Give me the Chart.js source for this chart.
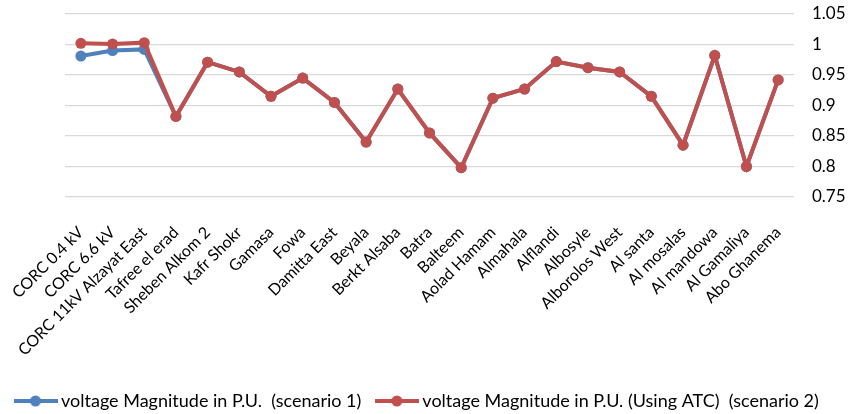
<!DOCTYPE html>
<html>
<head>
<meta charset="utf-8">
<script src="https://cdn.jsdelivr.net/npm/chart.js@4/dist/chart.umd.min.js"></script>
<style>
  html, body { margin: 0; padding: 0; background: #fff; }
  #wrap { width: 848px; height: 414px; }
</style>
</head>
<body>
<div id="wrap"><canvas id="chart" width="848" height="414"></canvas></div>
<script>
// Data
const stations = [
    'CORC 0.4 kV', 'CORC 6.6 kV', 'CORC 11kV Alzayat East', 'Tafree el erad',
    'Sheben Alkom 2', 'Kafr Shokr', 'Gamasa', 'Fowa', 'Damitta East', 'Beyala',
    'Berkt Alsaba', 'Batra', 'Balteem', 'Aolad Hamam', 'Almahala', 'Alflandi',
    'Albosyle', 'Alborolos West', 'Al santa', 'Al mosalas', 'Al mandowa',
    'Al Gamaliya', 'Abo Ghanema'
];
const scenario1 = [
    0.981, 0.990, 0.992, 0.882, 0.971, 0.955, 0.915, 0.945, 0.905, 0.840,
    0.927, 0.855, 0.798, 0.912, 0.927, 0.972, 0.962, 0.955, 0.915, 0.835,
    0.982, 0.800, 0.942
];
const scenario2 = [
    1.002, 1.001, 1.003, 0.882, 0.971, 0.955, 0.915, 0.945, 0.905, 0.840,
    0.927, 0.855, 0.798, 0.912, 0.927, 0.972, 0.962, 0.955, 0.915, 0.835,
    0.982, 0.800, 0.942
];
const yTicks = [0.75, 0.8, 0.85, 0.9, 0.95, 1, 1.05];

const BLUE = '#4f81bd';
const RED = '#c0504d';
const FONT = 'Lato, "Open Sans", sans-serif';

// small line+dot swatch for the legend
function legendSwatch(color) {
    const c = document.createElement('canvas');
    c.width = 44; c.height = 12;
    const g = c.getContext('2d');
    g.strokeStyle = color;
    g.lineWidth = 4;
    g.beginPath();
    g.moveTo(0, 6); g.lineTo(44, 6);
    g.stroke();
    g.fillStyle = color;
    g.beginPath();
    g.arc(22, 6, 5.5, 0, Math.PI * 2);
    g.fill();
    return c;
}

const ctx = document.getElementById('chart');
new Chart(ctx, {
    type: 'line',
    data: {
        labels: stations,
        datasets: [{
            label: 'voltage Magnitude in P.U.  (scenario 1)',
            data: scenario1,
            borderColor: BLUE,
            backgroundColor: BLUE,
            borderWidth: 4,
            pointRadius: 5.5,
            pointHoverRadius: 5.5,
            pointBorderWidth: 0,
            order: 2
        }, {
            label: 'voltage Magnitude in P.U. (Using ATC)  (scenario 2)',
            data: scenario2,
            borderColor: RED,
            backgroundColor: RED,
            borderWidth: 4,
            pointRadius: 5.5,
            pointHoverRadius: 5.5,
            pointBorderWidth: 0,
            order: 1
        }]
    },
    options: {
        responsive: false,
        animation: false,
        layout: { padding: { left: 0, right: 0, top: 14, bottom: -6 } },
        plugins: {
            tooltip: { enabled: false },
            legend: {
                position: 'bottom',
                align: 'start',
                labels: {
                    usePointStyle: true,
                    pointStyleWidth: 33,
                    color: '#000',
                    font: { family: FONT, size: 18 },
                    padding: 19,
                    sort: (a, b) => a.datasetIndex - b.datasetIndex,
                    generateLabels: (chart) => {
                        const items = Chart.defaults.plugins.legend.labels.generateLabels(chart);
                        items.forEach(it => {
                            it.pointStyle = legendSwatch(it.datasetIndex === 0 ? BLUE : RED);
                        });
                        return items;
                    }
                }
            }
        },
        scales: {
            x: {
                offset: true,
                grid: { display: false, drawTicks: false },
                border: { display: false },
                ticks: {
                    color: '#000',
                    font: { family: FONT, size: 16 },
                    minRotation: 45,
                    maxRotation: 45,
                    autoSkip: false,
                    padding: 26
                },
                afterFit: (scale) => {
                    scale.height = 176;
                    scale.paddingLeft = 65;
                    scale.paddingRight = 0;
                }
            },
            y: {
                position: 'right',
                min: 0.75,
                max: 1.05,
                afterBuildTicks: (scale) => {
                    scale.ticks = yTicks.map(v => ({ value: v }));
                },
                grid: { color: '#d9d9d9', lineWidth: 1.3, drawTicks: false },
                border: { display: false },
                ticks: {
                    color: '#000',
                    font: { family: FONT, size: 17 },
                    padding: 18,
                    callback: (v) => String(parseFloat(v.toFixed(2)))
                },
                afterFit: (scale) => {
                    scale.width = 54;
                    scale.paddingTop = 0;
                    scale.paddingBottom = 0;
                }
            }
        }
    }
});
</script>
</body>
</html>
